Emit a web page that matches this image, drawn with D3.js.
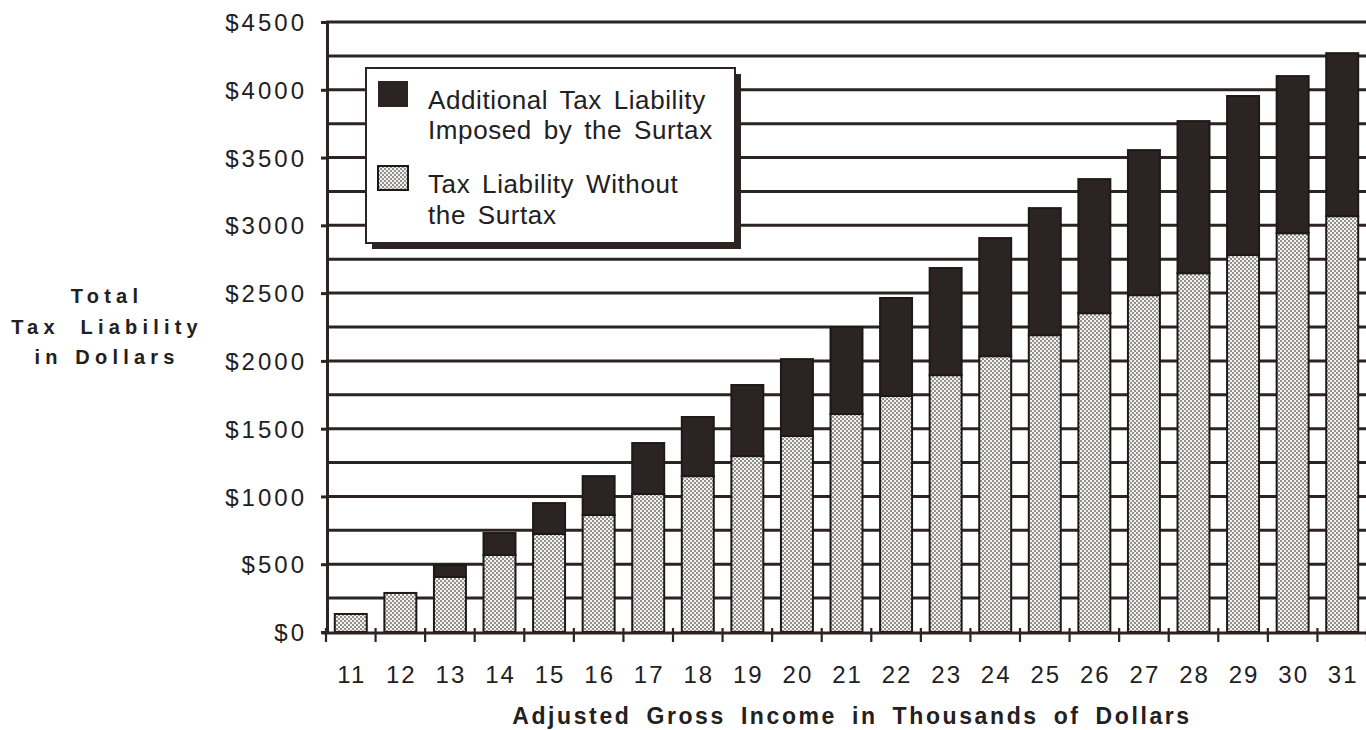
<!DOCTYPE html>
<html>
<head>
<meta charset="utf-8">
<script src="https://cdn.jsdelivr.net/npm/d3@7"></script>
<style>
  html, body { margin: 0; padding: 0; background: #ffffff; overflow: hidden; }
  svg { display: block; font-family: "Liberation Sans", Arial, Helvetica, sans-serif; }
</style>
</head>
<body>
<svg id="chart" width="1366" height="730"></svg>
<script>
// Adjusted gross income, thousands of dollars
const incomes = ["11","12","13","14","15","16","17","18","19","20","21","22","23","24","25","26","27","28","29","30","31"];
// Tax liability before the surtax, dollars
const baseTax = [133, 288, 406, 568, 723, 863, 1018, 1150, 1298, 1446, 1608, 1741, 1895, 2035, 2190, 2352, 2485, 2647, 2781, 2942, 3068];
// Extra liability imposed by the surtax, dollars
const surtax = [0, 0, 88, 162, 228, 287, 376, 436, 524, 567, 642, 723, 790, 871, 937, 989, 1070, 1122, 1173, 1159, 1202];
// Labelled dollar ticks on the vertical axis
const yTickValues = [0, 500, 1000, 1500, 2000, 2500, 3000, 3500, 4000, 4500];
const gridStep = 250;
const yMax = 4500;

const legendItems = [
  { key: "surtax", lines: ["Additional Tax Liability", "Imposed by the Surtax"] },
  { key: "base", lines: ["Tax Liability Without", "the Surtax"] }
];
const yTitleLines = ["Total", "Tax Liability", "in Dollars"];
const xTitle = "Adjusted Gross Income in Thousands of Dollars";

const ink = "#2b2422";
const textInk = "#222020";

const svg = d3.select("#chart");

// halftone stipple used for the base liability
const defs = svg.append("defs");
const pat = defs.append("pattern")
  .attr("id", "stipple").attr("patternUnits", "userSpaceOnUse")
  .attr("width", 4).attr("height", 4);
pat.append("rect").attr("width", 4).attr("height", 4).attr("fill", "#f2f2f2");
pat.append("circle").attr("cx", 1).attr("cy", 1).attr("r", 0.95).attr("fill", "#6a6666");
pat.append("circle").attr("cx", 3).attr("cy", 3).attr("r", 0.95).attr("fill", "#6a6666");

const plotLeft = 326, plotRight = 1367, plotTop = 22, plotBottom = 632;

const x = d3.scaleBand().domain(incomes).range([plotLeft, plotRight]).padding(0);
const xBar = d3.scaleBand().domain(incomes).range([plotLeft, plotRight])
  .paddingInner(0.355).paddingOuter(0.1775);
const y = d3.scaleLinear().domain([0, yMax]).range([plotBottom, plotTop]);

// horizontal rules every $250
const gridValues = d3.range(gridStep, yMax + 1, gridStep);
svg.append("g").selectAll("line").data(gridValues).join("line")
  .attr("x1", plotLeft).attr("x2", 1366)
  .attr("y1", d => y(d)).attr("y2", d => y(d))
  .attr("stroke", ink).attr("stroke-width", 3);

// stacked bars
const rows = incomes.map((c, i) => ({ income: c, base: baseTax[i], surtax: surtax[i] }));
const stacked = d3.stack().keys(["base", "surtax"])(rows);
const fills = { base: "url(#stipple)", surtax: ink };

svg.append("g").selectAll("g").data(stacked).join("g")
  .attr("fill", d => fills[d.key])
  .selectAll("rect").data(d => d.filter(s => s[1] - s[0] > 0)).join("rect")
  .attr("x", d => xBar(d.data.income))
  .attr("width", xBar.bandwidth())
  .attr("y", d => y(d[1]))
  .attr("height", d => y(d[0]) - y(d[1]))
  .attr("stroke", "#1d1918").attr("stroke-width", 2);

// vertical axis with dollar labels
const yAxis = d3.axisLeft(y).tickValues(yTickValues)
  .tickFormat(d => "$" + d).tickSize(6).tickSizeOuter(0).tickPadding(14);
const gy = svg.append("g").attr("transform", `translate(${plotLeft + 1},0)`).call(yAxis);
gy.select(".domain").attr("stroke", ink).attr("stroke-width", 3);
gy.selectAll(".tick line").attr("stroke", ink).attr("stroke-width", 3);
gy.selectAll(".tick text")
  .attr("fill", textInk).attr("dy", "0.36em")
  .style("font-size", "24px").style("letter-spacing", "3px");

// horizontal axis: category labels plus boundary ticks
const xAxis = d3.axisBottom(x).tickSize(0).tickPadding(33);
const gx = svg.append("g").attr("transform", `translate(0,${plotBottom + 1})`).call(xAxis);
gx.select(".domain").remove();
gx.selectAll(".tick text")
  .attr("fill", textInk).attr("dx", "1px")
  .style("font-size", "24px").style("letter-spacing", "2px");

svg.append("line")
  .attr("x1", plotLeft - 4).attr("x2", 1366)
  .attr("y1", plotBottom + 1).attr("y2", plotBottom + 1)
  .attr("stroke", ink).attr("stroke-width", 3);

const boundaries = incomes.map(c => x(c)).concat([x(incomes[incomes.length - 1]) + x.bandwidth()]);
svg.append("g").selectAll("line").data(boundaries).join("line")
  .attr("x1", d => d).attr("x2", d => d)
  .attr("y1", plotBottom - 4).attr("y2", plotBottom + 10)
  .attr("stroke", ink).attr("stroke-width", 2.2);

// vertical axis title
const yTitle = svg.append("text")
  .attr("fill", textInk).attr("font-weight", "bold")
  .style("font-size", "20px").style("letter-spacing", "5.2px")
  .attr("text-anchor", "middle");
const yTitleBaselines = [303, 334, 364];
const yTitleWordSpacing = [0, 10, 2];
yTitleLines.forEach((t, i) => {
  yTitle.append("tspan").attr("x", 107).attr("y", yTitleBaselines[i])
    .style("word-spacing", yTitleWordSpacing[i] + "px").text(t);
});

// horizontal axis title
svg.append("text")
  .attr("x", 852).attr("y", 724)
  .attr("text-anchor", "middle").attr("fill", textInk).attr("font-weight", "bold")
  .style("font-size", "23px").style("letter-spacing", "2.6px").style("word-spacing", "6px")
  .text(xTitle);

// legend box with drop shadow
const legend = svg.append("g");
legend.append("rect").attr("x", 372).attr("y", 74).attr("width", 369).attr("height", 175).attr("fill", ink);
legend.append("rect").attr("x", 366).attr("y", 68).attr("width", 369).attr("height", 175)
  .attr("fill", "#ffffff").attr("stroke", ink).attr("stroke-width", 2);

const swatchY = [81, 166];
const lineBaselines = [[109, 139], [193, 224]];
legendItems.forEach((item, i) => {
  legend.append("rect")
    .attr("x", 378).attr("y", swatchY[i])
    .attr("width", 30).attr("height", item.key === "surtax" ? 26 : 24)
    .attr("fill", fills[item.key])
    .attr("stroke", "#1d1918").attr("stroke-width", item.key === "surtax" ? 0 : 2);
  const t = legend.append("text").attr("fill", textInk)
    .style("font-size", "26px").style("letter-spacing", "0.6px").style("word-spacing", "4px");
  item.lines.forEach((ln, j) => {
    t.append("tspan").attr("x", 428).attr("y", lineBaselines[i][j]).text(ln);
  });
});
</script>
</body>
</html>
